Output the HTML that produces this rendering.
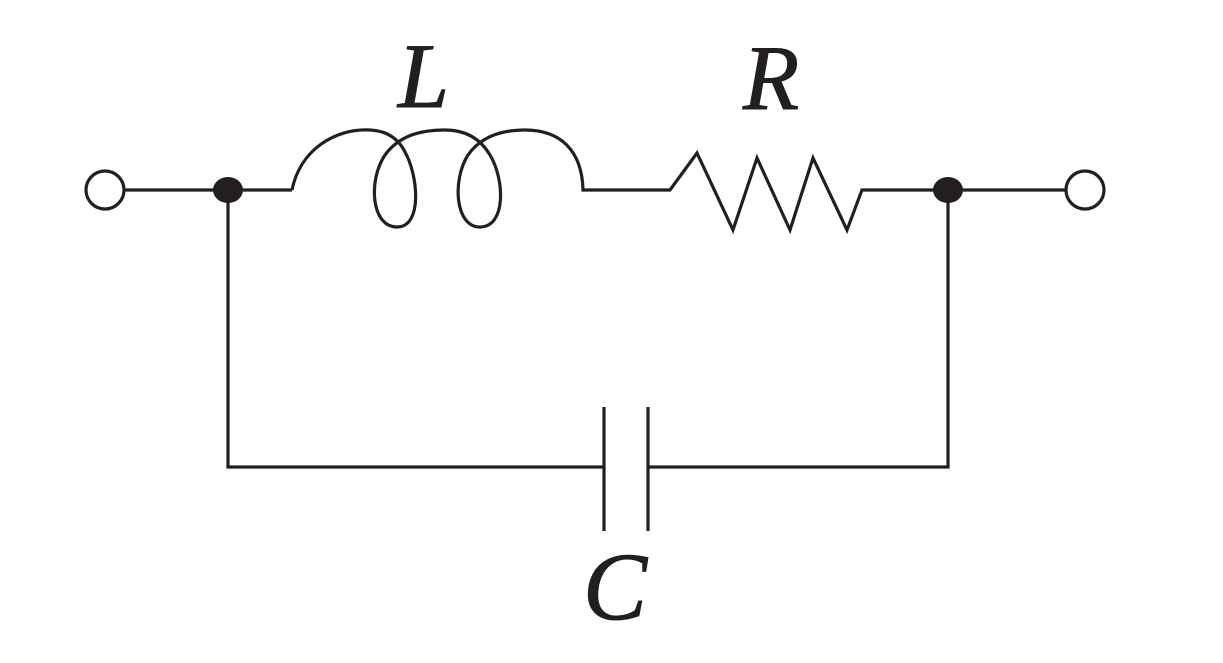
<!DOCTYPE html>
<html><head><meta charset="utf-8"><style>
html,body{margin:0;padding:0;background:#fff;}
svg{display:block}
text{font-family:"Liberation Serif",serif;font-style:italic;fill:#231f20}
</style></head><body>
<svg width="1223" height="663" viewBox="0 0 1223 663" xmlns="http://www.w3.org/2000/svg">
<g fill="none" stroke="#231f20" stroke-width="3.2" stroke-linejoin="miter">
<line x1="124" y1="190" x2="292" y2="190"/>
<path d="M292,190 C300,150 335,128 370,130 C390,131 400,142 405,152 C418,175 423,227 397,227 C371,227 368,180 385,155 C398,137 418,130 445,130 C465,130 480,138 490,155 C505,180 506,227 480,227 C455,227 452,180 468,155 C480,138 500,130 525,130 C560,130 582,150 583,190 L670,190 L697,153 L733,230 L757,158 L790,230 L813,158 L847,230 L862,190 L1066,190"/>
<polyline points="228,190 228,467 604,467"/>
<polyline points="648,467 948,467 948,190"/>
<line x1="604" y1="407" x2="604" y2="531"/>
<line x1="648" y1="407" x2="648" y2="531"/>
<circle cx="105" cy="190" r="19" fill="#fff"/>
<circle cx="1085" cy="190" r="19" fill="#fff"/>
</g>
<ellipse cx="228" cy="190" rx="15" ry="13" fill="#231f20"/>
<ellipse cx="948" cy="190" rx="15" ry="13" fill="#231f20"/>
<text x="398" y="107" font-size="92" stroke="#231f20" stroke-width="1">L</text>
<text x="743" y="109" font-size="92" stroke="#231f20" stroke-width="1">R</text>
<text x="583" y="619" font-size="96" stroke="#231f20" stroke-width="1">C</text>
</svg>
</body></html>
